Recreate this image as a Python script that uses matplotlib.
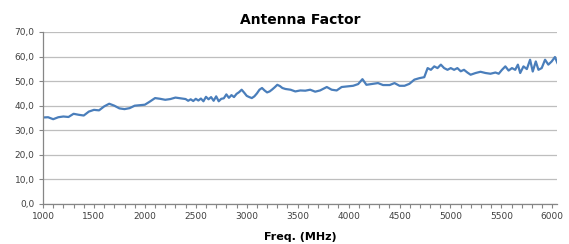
import matplotlib.pyplot as plt
from matplotlib.ticker import MultipleLocator, FuncFormatter

# frequency (MHz) and antenna factor (dB/m)
freq = [1000, 1050, 1100, 1150, 1200, 1250, 1300, 1350, 1400, 1450,
        1500, 1550, 1600, 1650, 1700, 1750, 1800, 1850, 1900, 1950,
        2000, 2050, 2100, 2150, 2200, 2250, 2300, 2350, 2400, 2425,
        2450, 2475, 2500, 2525, 2550, 2575, 2600, 2625, 2650, 2675,
        2700, 2725, 2750, 2775, 2800, 2825, 2850, 2875, 2900, 2925,
        2950, 2975, 3000, 3025, 3050, 3075, 3100, 3125, 3150, 3175,
        3200, 3225, 3250, 3275, 3300, 3325, 3350, 3380, 3430, 3477,
        3526, 3575, 3623, 3672, 3720, 3786, 3834, 3883, 3932, 3981,
        4045, 4094, 4136, 4175, 4240, 4289, 4338, 4403, 4451, 4500,
        4549, 4597, 4646, 4695, 4743, 4776, 4808, 4841, 4873, 4906,
        4938, 4971, 5003, 5036, 5068, 5101, 5133, 5166, 5198, 5247,
        5295, 5344, 5393, 5442, 5474, 5506, 5539, 5571, 5604, 5636,
        5662, 5685, 5717, 5750, 5782, 5808, 5838, 5864, 5896, 5929,
        5961, 5994, 6026, 6050]
af = [35.2, 35.3, 34.5, 35.3, 35.6, 35.4, 36.7, 36.3, 36.0, 37.6,
      38.3, 38.1, 39.7, 40.8, 40.0, 38.9, 38.6, 39.0, 40.0, 40.2,
      40.4, 41.7, 43.1, 42.8, 42.4, 42.7, 43.3, 43.0, 42.7, 42.0,
      42.6, 41.9, 42.8, 42.1, 42.9, 41.8, 43.6, 42.6, 43.5, 42.0,
      43.8, 41.8, 42.8, 43.0, 44.6, 43.2, 44.3, 43.5, 44.8, 45.5,
      46.5, 45.3, 44.0, 43.5, 43.1, 43.8, 45.0, 46.5, 47.2, 46.2,
      45.4, 45.8, 46.6, 47.5, 48.5, 48.0, 47.2, 46.8, 46.5, 45.8,
      46.2, 46.1, 46.5, 45.7, 46.2, 47.6, 46.5, 46.2, 47.6, 47.8,
      48.1, 48.8, 50.8, 48.5, 48.9, 49.2, 48.4, 48.4, 49.2, 48.1,
      48.1, 48.9, 50.6, 51.2, 51.6, 55.3, 54.6, 56.0, 55.3, 56.7,
      55.3, 54.6, 55.3, 54.6, 55.3, 54.0, 54.6, 53.5, 52.6, 53.3,
      53.8, 53.3, 53.0, 53.5, 53.0, 54.6, 56.0, 54.3, 55.3, 54.6,
      56.7, 53.3, 56.0, 54.9, 58.7, 53.9, 58.0, 54.6, 55.3, 58.7,
      56.7, 58.0, 59.8, 57.4]

grey = '#868686'
text_col = '#404040'

fig = plt.figure(figsize=(5.69, 2.44), dpi=100)
ax = fig.add_axes([0.0756, 0.164, 0.904, 0.705])

ax.plot(freq, af, color='#4A7EBB', lw=1.6, solid_joinstyle='round')

ax.set_xlim(1000, 6050)
ax.set_ylim(0, 70)
ax.xaxis.set_major_locator(MultipleLocator(500))
ax.xaxis.set_minor_locator(MultipleLocator(100))
ax.yaxis.set_major_locator(MultipleLocator(10))
ax.yaxis.set_major_formatter(FuncFormatter(lambda v, p: f"{v:.1f}".replace('.', ',')))

ax.grid(axis='y', color='#BEBEBE', lw=0.9)
ax.set_axisbelow(True)
for s in ['top', 'right']:
    ax.spines[s].set_visible(False)
for s in ['left', 'bottom']:
    ax.spines[s].set_color(grey)
    ax.spines[s].set_linewidth(0.9)

ax.tick_params(axis='both', which='both', direction='out', color=grey,
               labelsize=6.5, labelcolor=text_col, length=3, width=0.8, pad=3)
ax.tick_params(axis='x', which='minor', length=3)

ax.set_title('Antenna Factor', fontsize=10, fontweight='bold', color='black', pad=6)
ax.set_xlabel('Freq. (MHz)', fontsize=8, fontweight='bold', color='black', labelpad=8)

fig.savefig('out.png', dpi=100)
